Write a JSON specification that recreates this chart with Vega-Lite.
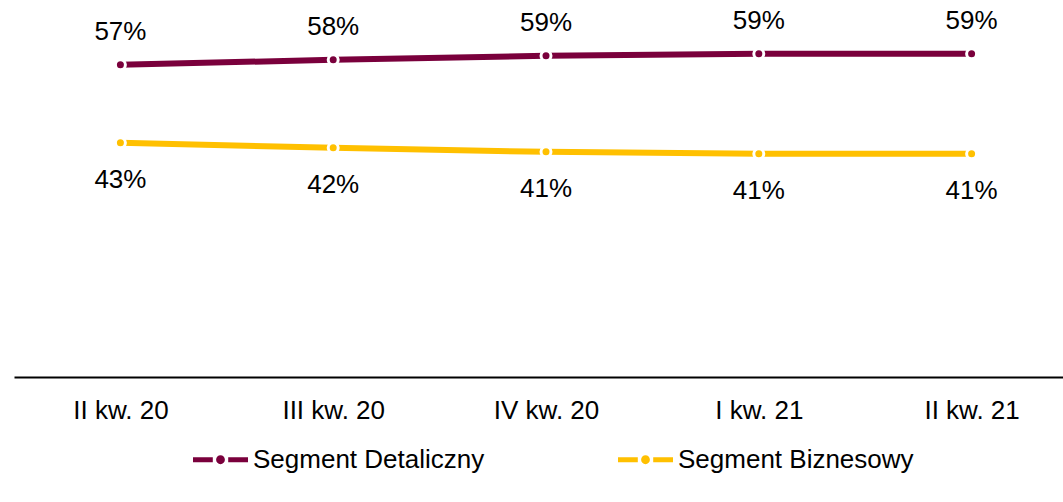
{
  "$schema": "https://vega.github.io/schema/vega-lite/v6.json",
  "autosize": "none",
  "width": 1064,
  "height": 377,
  "padding": {"left": 14, "top": 0, "right": 0, "bottom": 125},
  "background": "white",
  "config": {
    "view": {"stroke": null},
    "font": "Liberation Sans",
    "text": {"font": "Liberation Sans"}
  },
  "data": {
    "values": [
      {"q": "II kw. 20", "s": "Segment Detaliczny", "v": 0.5714},
      {"q": "III kw. 20", "s": "Segment Detaliczny", "v": 0.5806},
      {"q": "IV kw. 20", "s": "Segment Detaliczny", "v": 0.5879},
      {"q": "I kw. 21", "s": "Segment Detaliczny", "v": 0.5916},
      {"q": "II kw. 21", "s": "Segment Detaliczny", "v": 0.5916},
      {"q": "II kw. 20", "s": "Segment Biznesowy", "v": 0.4286},
      {"q": "III kw. 20", "s": "Segment Biznesowy", "v": 0.4194},
      {"q": "IV kw. 20", "s": "Segment Biznesowy", "v": 0.4121},
      {"q": "I kw. 21", "s": "Segment Biznesowy", "v": 0.4084},
      {"q": "II kw. 21", "s": "Segment Biznesowy", "v": 0.4084}
    ]
  },
  "encoding": {
    "x": {
      "field": "q", "type": "ordinal",
      "sort": ["II kw. 20", "III kw. 20", "IV kw. 20", "I kw. 21", "II kw. 21"],
      "scale": {"type": "point", "padding": 0.5},
      "axis": {
        "title": null, "labelAngle": 0, "ticks": false, "tickSize": 0,
        "labelPadding": 20, "labelFontSize": 26, "labelColor": "black",
        "labelFont": "Liberation Sans", "domainColor": "black", "domainWidth": 2,
        "grid": false
      }
    },
    "y": {
      "field": "v", "type": "quantitative",
      "scale": {"domain": [0, 0.69], "nice": false, "zero": true},
      "axis": null
    }
  },
  "layer": [
    {
      "mark": {"type": "line", "strokeWidth": 6},
      "encoding": {
        "color": {
          "field": "s", "type": "nominal",
          "scale": {"domain": ["Segment Detaliczny", "Segment Biznesowy"], "range": ["#7A003C", "#FFC000"]},
          "legend": {
            "title": null,
            "orient": "none",
            "direction": "horizontal",
            "legendX": 179,
            "legendY": 432,
            "symbolType": "M-1,-0.09L-0.28,-0.09L-0.28,0.09L-1,0.09Z M0.28,-0.09L1,-0.09L1,0.09L0.28,0.09Z M-0.16,0A0.16,0.16 0 1 0 0.16,0A0.16,0.16 0 1 0 -0.16,0Z",
            "symbolSize": 3025,
            "symbolStrokeWidth": 0,
            "symbolOpacity": 1,
            "labelFontSize": 26,
            "labelFont": "Liberation Sans",
            "labelColor": "black",
            "labelOffset": 5,
            "columnPadding": 133,
            "labelLimit": 400,
            "encode": {
              "symbols": {
                "update": {
                  "fill": {"scale": "color", "field": "value"},
                  "stroke": {"value": "transparent"},
                  "strokeWidth": {"value": 0},
                  "opacity": {"value": 1}
                }
              }
            }
          }
        }
      }
    },
    {
      "mark": {"type": "point", "filled": true, "size": 100, "stroke": "white", "strokeWidth": 3, "opacity": 1, "strokeOpacity": 1},
      "encoding": {
        "color": {
          "field": "s", "type": "nominal",
          "scale": {"domain": ["Segment Detaliczny", "Segment Biznesowy"], "range": ["#7A003C", "#FFC000"]}
        }
      }
    },
    {
      "transform": [{"filter": "datum.s === 'Segment Detaliczny'"}],
      "mark": {"type": "text", "fontSize": 26, "dy": -33, "baseline": "middle", "color": "black"},
      "encoding": {"text": {"field": "v", "type": "quantitative", "format": ".0%"}}
    },
    {
      "transform": [{"filter": "datum.s === 'Segment Biznesowy'"}],
      "mark": {"type": "text", "fontSize": 26, "dy": 37, "baseline": "middle", "color": "black"},
      "encoding": {"text": {"field": "v", "type": "quantitative", "format": ".0%"}}
    }
  ]
}
